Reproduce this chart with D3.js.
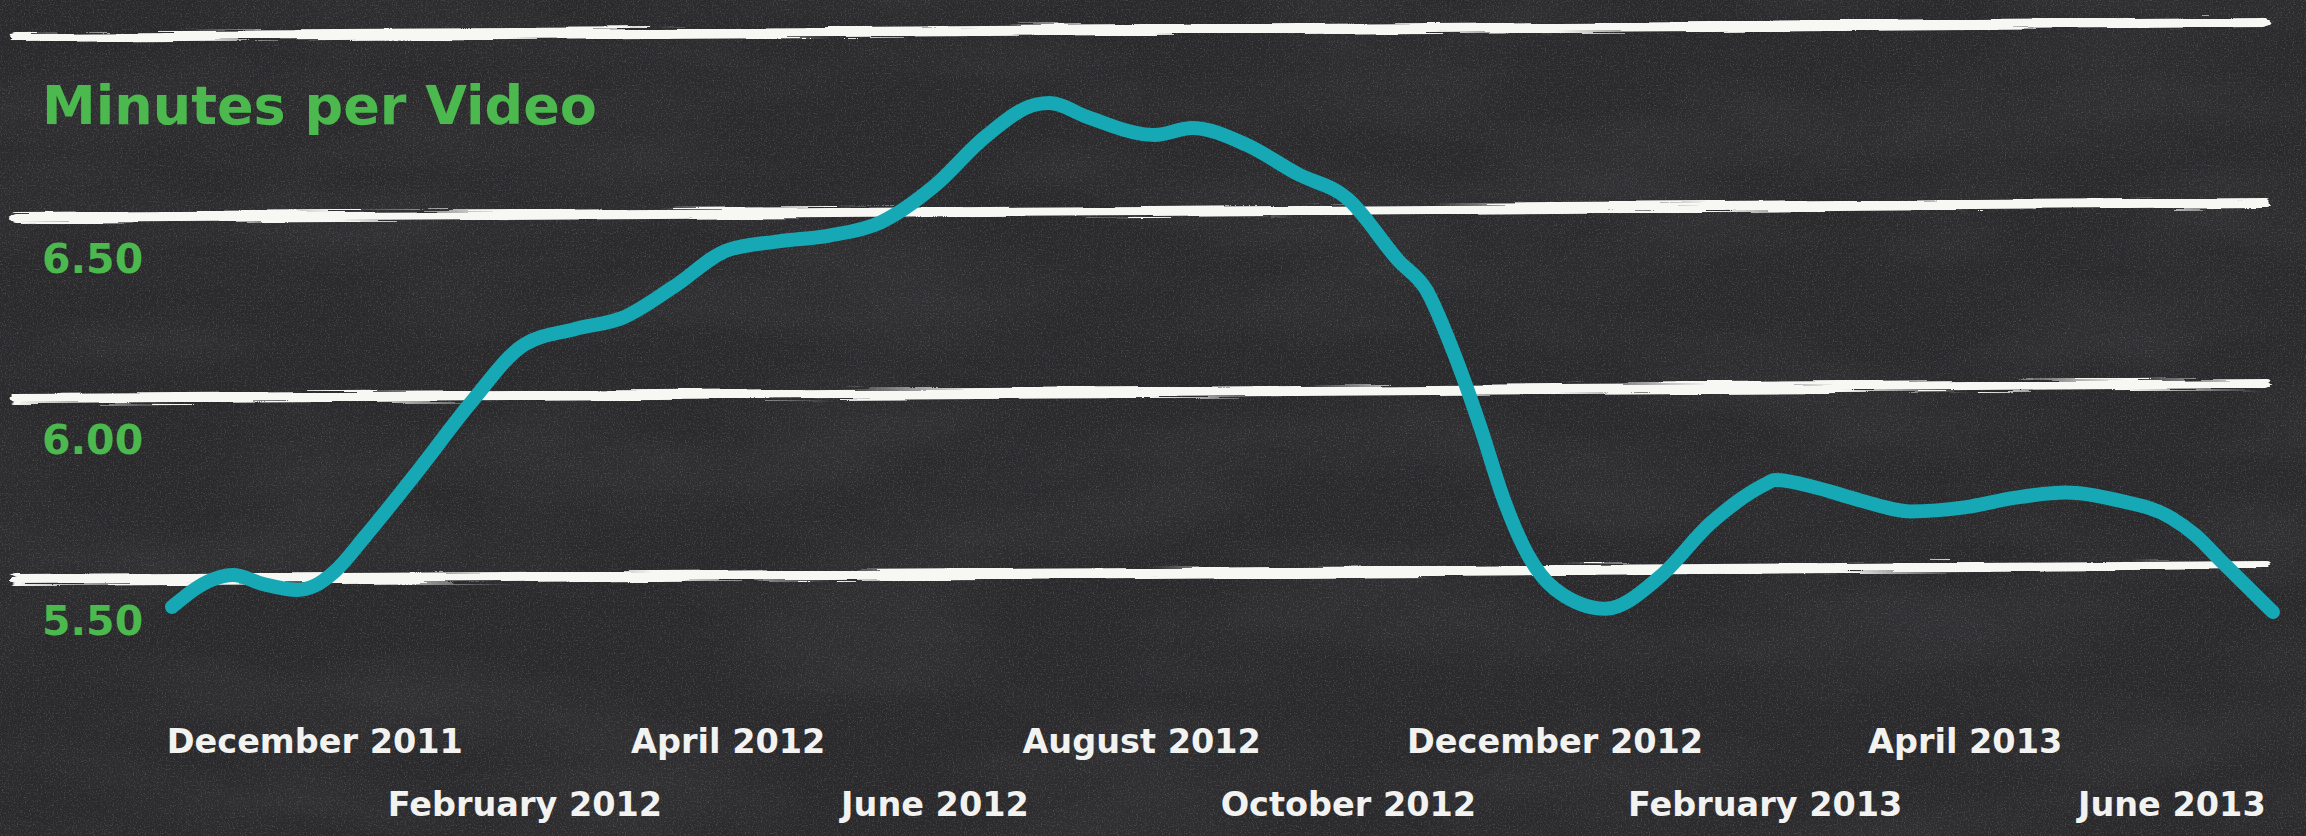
<!DOCTYPE html>
<html><head><meta charset="utf-8">
<script src="https://cdn.jsdelivr.net/npm/d3@7"></script>
<style>
html,body{margin:0;padding:0;background:#2b2b2d;overflow:hidden;}
svg{display:block;}
</style></head><body>
<svg id="chart" width="2306" height="836"></svg>
<script>
// ---- data ----
const chartTitle = "Minutes per Video";
const dates = ["2011-10-20","2011-11-01","2011-11-07","2011-11-16","2011-11-26","2011-12-01","2011-12-07","2011-12-16",
  "2012-01-01","2012-01-16","2012-02-01","2012-02-16","2012-03-01","2012-03-16","2012-04-01","2012-04-16",
  "2012-05-01","2012-05-16","2012-06-01","2012-06-16","2012-07-01","2012-07-05","2012-07-16","2012-08-01",
  "2012-08-05","2012-08-16","2012-09-01","2012-09-16","2012-10-01","2012-10-16","2012-10-24","2012-11-01",
  "2012-11-09","2012-11-16","2012-11-23","2012-12-01","2012-12-16","2013-01-01","2013-01-16","2013-02-01",
  "2013-02-04","2013-02-16","2013-03-01","2013-03-16","2013-04-01","2013-04-16","2013-05-01","2013-05-16",
  "2013-06-01","2013-06-08","2013-06-16","2013-07-01"];
const minutes = [5.536,5.612,5.624,5.599,5.583,5.594,5.634,5.731,
  5.917,6.098,6.261,6.304,6.335,6.420,6.522,6.546,
  6.562,6.598,6.699,6.835,6.924,6.928,6.890,6.843,
  6.840,6.859,6.813,6.733,6.663,6.492,6.414,6.244,
  6.036,5.833,5.682,5.586,5.531,5.619,5.767,5.874,
  5.887,5.866,5.831,5.800,5.811,5.838,5.852,5.831,
  5.782,5.735,5.660,5.522];
const yTickValues = [5.5, 6.0, 6.5];
const gridValues = [5.5, 6.0, 6.5, 7.0];
const xTickDates = ["2011-12-01","2012-02-01","2012-04-01","2012-06-01","2012-08-01",
  "2012-10-01","2012-12-01","2013-02-01","2013-04-01","2013-06-01"];
const xTickLabels = ["December 2011","February 2012","April 2012","June 2012","August 2012",
  "October 2012","December 2012","February 2013","April 2013","June 2013"];

// ---- setup ----
const W = 2306, H = 836;
const parse = d3.timeParse("%Y-%m-%d");
const data = dates.map((d, i) => ({date: parse(d), value: minutes[i]}));
const svg = d3.select("#chart");

const x = d3.scaleTime().domain(d3.extent(data, d => d.date)).range([172, 2273]);
const y = d3.scaleLinear().domain([5.5, 7.0]).range([620, 77]);

const defs = svg.append("defs");
const fNoise = defs.append("filter").attr("id", "noise").attr("filterUnits", "userSpaceOnUse")
  .attr("x", 0).attr("y", 0).attr("width", W).attr("height", H);
fNoise.append("feTurbulence").attr("type", "fractalNoise").attr("baseFrequency", "0.75")
  .attr("numOctaves", 2).attr("seed", 4);
fNoise.append("feColorMatrix").attr("type", "matrix")
  .attr("values", "0 0 0 0 1  0 0 0 0 1  0 0 0 0 1  1.6 0 0 0 -0.82");
const fBlot = defs.append("filter").attr("id", "blot").attr("filterUnits", "userSpaceOnUse")
  .attr("x", 0).attr("y", 0).attr("width", W).attr("height", H);
fBlot.append("feTurbulence").attr("type", "fractalNoise").attr("baseFrequency", "0.004 0.012")
  .attr("numOctaves", 3).attr("seed", 9);
fBlot.append("feColorMatrix").attr("type", "matrix")
  .attr("values", "0 0 0 0 0.6  0 0 0 0 0.6  0 0 0 0 0.62  1.2 0 0 0 -0.45");
const fChalk = defs.append("filter").attr("id", "chalk").attr("filterUnits", "userSpaceOnUse")
  .attr("x", 0).attr("y", 0).attr("width", W).attr("height", H);
fChalk.append("feTurbulence").attr("type", "fractalNoise").attr("baseFrequency", "0.006 0.25")
  .attr("numOctaves", 3).attr("seed", 2).attr("result", "t");
fChalk.append("feDisplacementMap").attr("in", "SourceGraphic").attr("in2", "t")
  .attr("scale", 9).attr("xChannelSelector", "R").attr("yChannelSelector", "G");

// background
svg.append("rect").attr("width", W).attr("height", H).attr("fill", "#2a2a2d");
svg.append("rect").attr("width", W).attr("height", H).attr("filter", "url(#blot)").attr("opacity", 0.08);
svg.append("rect").attr("width", W).attr("height", H).attr("filter", "url(#noise)").attr("opacity", 0.3);

// chalk grid lines
const gridG = svg.append("g").attr("filter", "url(#chalk)");
gridG.selectAll("path").data(gridValues).join("path")
  .attr("d", v => d3.line()([[15, y(v) - 40], [1150, y(v) - 47], [2265, y(v) - 55]]))
  .attr("fill", "none").attr("stroke", "#f7f7f4").attr("stroke-width", 10)
  .attr("stroke-linecap", "round");

// title
svg.append("text").attr("x", 42).attr("y", 124).text(chartTitle)
  .attr("font-family", "DejaVu Sans").attr("font-weight", "bold").attr("font-size", 54)
  .attr("fill", "#4bb94d");

// y axis
const yAxis = svg.append("g").call(d3.axisLeft(y).tickValues(yTickValues).tickFormat(d3.format(".2f")).tickSize(0));
yAxis.select(".domain").remove();
yAxis.selectAll("text").attr("x", 42).attr("dy", "0.36em").attr("text-anchor", "start")
  .attr("font-family", "DejaVu Sans").attr("font-weight", "bold").attr("font-size", 41)
  .attr("fill", "#4bb94d");

// x axis
const xAxis = svg.append("g").call(d3.axisBottom(x).tickValues(xTickDates.map(parse))
  .tickFormat((d, i) => xTickLabels[i]).tickSize(0));
xAxis.select(".domain").remove();
xAxis.selectAll("text").attr("y", (d, i) => i % 2 ? 816 : 753).attr("dy", null)
  .attr("font-family", "DejaVu Sans").attr("font-weight", "bold").attr("font-size", 33.5)
  .attr("fill", "#f2f2f0");

// line
svg.append("path").datum(data)
  .attr("d", d3.line().x(d => x(d.date)).y(d => y(d.value)).curve(d3.curveMonotoneX))
  .attr("fill", "none").attr("stroke", "#16a8b5").attr("stroke-width", 14)
  .attr("stroke-linecap", "round").attr("stroke-linejoin", "round");
</script>
</body></html>
